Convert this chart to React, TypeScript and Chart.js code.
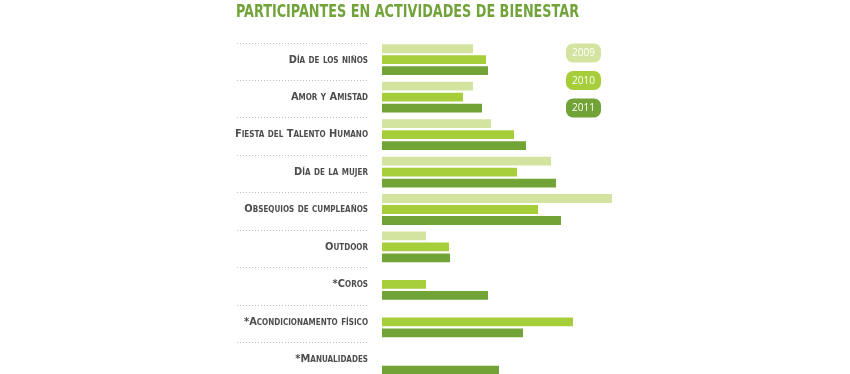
import React, { useEffect, useRef } from "react";
import { Chart, registerables } from "chart.js";

Chart.register(...registerables);

const categories = [
  "Día de los niños",
  "Amor y Amistad",
  "Fiesta del Talento Humano",
  "Día de la mujer",
  "Obsequios de cumpleaños",
  "Outdoor",
  "*Coros",
  "*Acondicionamento físico",
  "*Manualidades",
];
const years = ["2009", "2010", "2011"];
const values2009 = [91, 91, 109, 169, 230, 44, null, null, null];
const values2010 = [104, 81, 132, 135, 156, 67, 44, 191, null];
const values2011 = [106, 100, 144, 174, 179, 68, 106, 141, 117];
const colors = ["#d3e3a0", "#a6cd3a", "#72a336"];
const titleText = "PARTICIPANTES EN ACTIVIDADES DE BIENESTAR";

const FONT_NARROW = "'Liberation Sans Narrow', 'DejaVu Sans Condensed', sans-serif";

const titlePlugin = {
  id: "narrowTitle",
  afterDraw(chart: any) {
    const ctx = chart.ctx;
    ctx.save();
    ctx.font = `bold 17px ${FONT_NARROW}`;
    ctx.fillStyle = "#72a33a";
    ctx.textAlign = "left";
    ctx.textBaseline = "alphabetic";
    const w = ctx.measureText(titleText).width;
    const sx = 343 / w;
    ctx.translate(236, 17);
    ctx.scale(sx, 1);
    ctx.fillText(titleText, 0, 0);
    ctx.restore();
  },
};

const separatorPlugin = {
  id: "separators",
  beforeDatasetsDraw(chart: any) {
    const y = chart.scales.y;
    const ctx = chart.ctx;
    const band = y.getPixelForValue(1) - y.getPixelForValue(0);
    ctx.save();
    ctx.strokeStyle = "#bdbdbd";
    ctx.lineWidth = 1;
    ctx.setLineDash([1, 2]);
    for (let i = 0; i < categories.length; i++) {
      const py = Math.round(y.getPixelForValue(i) - band / 2 + 1.5) + 0.5;
      ctx.beginPath();
      ctx.moveTo(237, py);
      ctx.lineTo(368, py);
      ctx.stroke();
    }
    ctx.restore();
  },
};

const legendPlugin = {
  id: "pillLegend",
  afterDraw(chart: any) {
    const ctx = chart.ctx;
    ctx.save();
    chart.data.datasets.forEach((ds: any, i: number) => {
      const x = 566;
      const yy = 43.5 + i * 27.5;
      const w = 35;
      const h = 19;
      ctx.fillStyle = ds.backgroundColor;
      ctx.beginPath();
      ctx.roundRect(x, yy, w, h, 7);
      ctx.fill();
      ctx.fillStyle = "#ffffff";
      ctx.font = "10px 'Open Sans', sans-serif";
      ctx.textAlign = "center";
      ctx.textBaseline = "middle";
      ctx.fillText(ds.label, x + w / 2, yy + h / 2 + 0.5);
    });
    ctx.restore();
  },
};

export default function App() {
  const ref = useRef<HTMLCanvasElement | null>(null);
  useEffect(() => {
    if (!ref.current) return;
    const chart = new Chart(ref.current, {
      type: "bar",
      data: {
        labels: categories,
        datasets: [
          { label: years[0], data: values2009, backgroundColor: colors[0] },
          { label: years[1], data: values2010, backgroundColor: colors[1] },
          { label: years[2], data: values2011, backgroundColor: colors[2] },
        ],
      },
      options: {
        indexAxis: "y",
        animation: false,
        responsive: false,
        categoryPercentage: 0.88,
        barPercentage: 0.8,
        layout: { padding: { left: 236, right: 218, top: 41, bottom: 2 } },
        scales: {
          x: { display: false, min: 0, max: 250 },
          y: {
            afterFit: (scale: any) => {
              scale.width = 146;
              scale.paddingTop = 0;
              scale.paddingBottom = 0;
            },
            grid: { display: false, drawTicks: false },
            border: { display: false },
            ticks: {
              padding: 14,
              color: "#4d4d4d",
              font: {
                family: FONT_NARROW,
                size: 11,
                weight: "small-caps bold",
              },
            },
          },
        },
        plugins: {
          legend: { display: false },
          tooltip: { enabled: false },
          title: { display: false },
        },
      },
      plugins: [separatorPlugin, legendPlugin, titlePlugin],
    });
    return () => chart.destroy();
  }, []);
  return (
    <div style={{ position: "fixed", left: 0, top: 0, width: 850, height: 380 }}>
      <canvas ref={ref} width={850} height={380} />
    </div>
  );
}
